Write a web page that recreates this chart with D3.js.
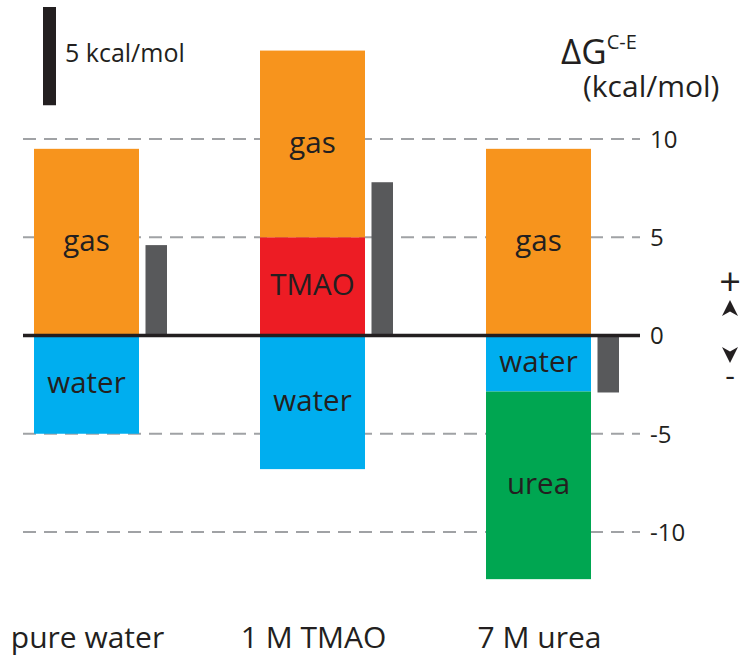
<!DOCTYPE html>
<html><head><meta charset="utf-8">
<script src="https://cdn.jsdelivr.net/npm/d3@7"></script>
<style>
body{margin:0;background:#fff}
text{font-family:"Open Sans",sans-serif;fill:#231f20}
</style>
</head><body>
<svg id="chart" width="750" height="671"></svg>
<script>
// ---- data ----
const categories = ["pure water", "1 M TMAO", "7 M urea"];
const tmao  = [0, 5.0, 0];
const gas   = [9.5, 9.5, 9.5];
const water = [-5.0, -6.8, -2.85];
const urea  = [0, 0, -9.55];
const net   = [4.6, 7.8, -2.9];
const yTicks = [10, 5, 0, -5, -10];
const segmentKeys = ["tmao", "gas", "water", "urea"];
const segmentLabels = ["TMAO", "gas", "water", "urea"];
const segmentColors = ["#ed1c24", "#f7941d", "#00aeef", "#00a651"];
const scaleBarValue = 5;
const scaleBarLabel = "5 kcal/mol";

// ---- setup ----
const svg = d3.select("#chart");
const y = d3.scaleLinear().domain([-10, 10]).range([532, 139]);
const x = d3.scaleBand().domain(categories).range([34, 591])
  .paddingInner(0.5354).paddingOuter(0).align(0);
const bw = x.bandwidth();

const rows = categories.map((c, i) => ({cat: c, tmao: tmao[i], gas: gas[i], water: water[i], urea: urea[i]}));
const stack = d3.stack().keys(segmentKeys).offset(d3.stackOffsetDiverging);
const series = stack(rows);

// gridlines (dashed)
const gridLeft = 23, gridRight = 640;
svg.append("g").selectAll("line").data(yTicks.filter(t => t !== 0)).join("line")
  .attr("x1", gridLeft).attr("x2", gridRight)
  .attr("y1", d => y(d)).attr("y2", d => y(d))
  .attr("stroke", "#a0a2a5").attr("stroke-width", 2)
  .attr("stroke-dasharray", "13,8");

// tick labels
svg.append("g").selectAll("text").data(yTicks).join("text")
  .attr("x", 650).attr("y", d => y(d)).attr("dy", "0.37em")
  .attr("font-size", 24)
  .text(d => d);

// stacked bars
series.forEach((s, k) => {
  const g = svg.append("g");
  const segs = s.filter(d => d[1] - d[0] !== 0);
  g.selectAll("rect").data(segs).join("rect")
    .attr("x", d => x(d.data.cat)).attr("width", bw)
    .attr("y", d => y(d[1])).attr("height", d => y(d[0]) - y(d[1]))
    .attr("fill", segmentColors[k]);
  g.selectAll("text").data(segs).join("text")
    .attr("x", d => x(d.data.cat) + bw / 2)
    .attr("y", d => (y(d[0]) + y(d[1])) / 2)
    .attr("dy", "0.3em").attr("text-anchor", "middle")
    .attr("font-size", 29.5)
    .text(segmentLabels[k]);
});

// net bars (gray)
svg.append("g").selectAll("rect").data(categories).join("rect")
  .attr("x", c => x(c) + bw + 6.5).attr("width", 21.5)
  .attr("y", (c, i) => y(Math.max(0, net[i])))
  .attr("height", (c, i) => Math.abs(y(net[i]) - y(0)))
  .attr("fill", "#58595b");

// zero line
svg.append("line").attr("x1", gridLeft).attr("x2", gridRight)
  .attr("y1", y(0)).attr("y2", y(0))
  .attr("stroke", "#231f20").attr("stroke-width", 3.5);

// category labels
svg.append("g").selectAll("text").data(categories).join("text")
  .attr("x", c => x(c) + bw / 2 + 1).attr("y", 648)
  .attr("text-anchor", "middle").attr("font-size", 30)
  .text(c => c);

// scale bar
svg.append("rect").attr("x", 43).attr("width", 13)
  .attr("y", 7).attr("height", y(0) - y(scaleBarValue))
  .attr("fill", "#231f20");
svg.append("text").attr("x", 65).attr("y", 62).attr("font-size", 25)
  .text(scaleBarLabel);

// axis title
const t1 = svg.append("text").attr("x", 561).attr("y", 64).attr("font-size", 35);
t1.append("tspan").text("ΔG");
t1.append("tspan").attr("font-size", 20).attr("dy", -15).text("C-E");
svg.append("text").attr("x", 583).attr("y", 97).attr("font-size", 30)
  .text("(kcal/mol)");

// +/- indicators
svg.append("text").attr("x", 730).attr("y", 295).attr("text-anchor", "middle")
  .attr("font-size", 38).style("fill", "#231f20").text("+");
svg.append("path").attr("transform", "translate(730,308)")
  .attr("d", "M0,-8 L8,8 L0,3.5 L-8,8 Z").attr("fill", "#231f20");
svg.append("path").attr("transform", "translate(730,355)")
  .attr("d", "M0,8 L8,-8 L0,-3.5 L-8,-8 Z").attr("fill", "#231f20");
svg.append("text").attr("x", 730).attr("y", 386).attr("text-anchor", "middle")
  .attr("font-size", 30).style("fill", "#231f20").text("-");
</script>
</body></html>
